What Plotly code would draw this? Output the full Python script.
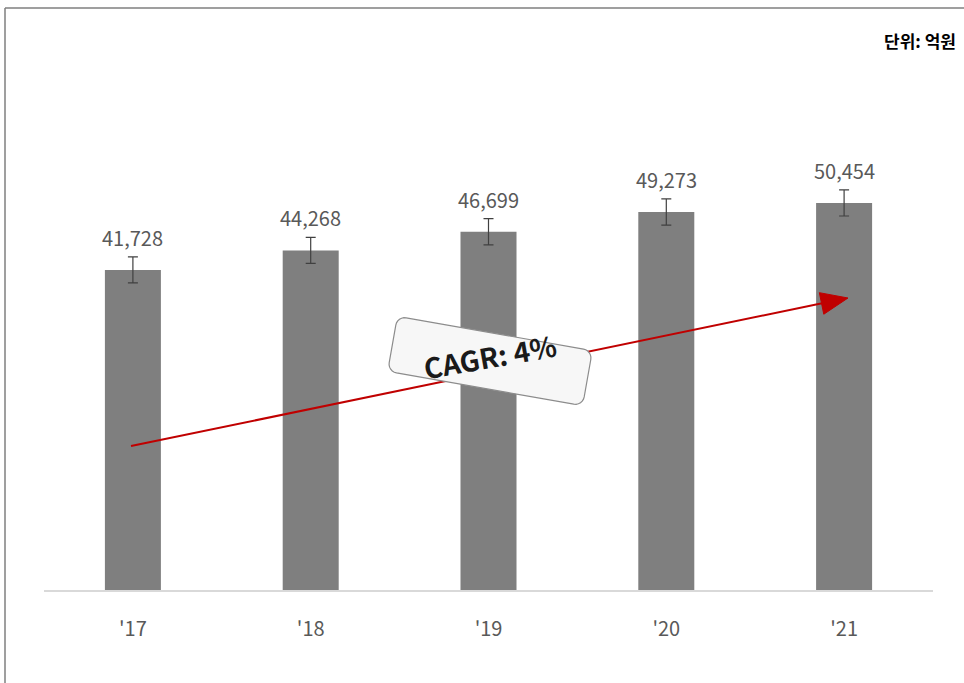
import math
import plotly.graph_objects as go

# Annual figures (unit: 억원)
years = ["'17", "'18", "'19", "'20", "'21"]
values = [41728, 44268, 46699, 49273, 50454]
errors = [1700, 1700, 1700, 1700, 1700]
cagr_text = "CAGR: 4%"
unit_text = "단위: 억원"

W, H = 964, 683
ML, MR, MT, MB = 44, 31, 53, 93
YMAX = 70000

font_family = "Noto Sans CJK KR, Open Sans, sans-serif"

fig = go.Figure()
fig.add_trace(go.Bar(
    x=years, y=values,
    marker=dict(color="#7f7f7f", line=dict(width=0)),
    width=0.315,
    error_y=dict(type="data", array=errors, visible=True,
                 color="#404040", thickness=1.2, width=5),
    hoverinfo="skip",
))

# value labels above each bar
for yr, v in zip(years, values):
    fig.add_annotation(x=yr, y=v, text=f"{v:,}", showarrow=False,
                       yanchor="bottom", yshift=16,
                       font=dict(size=20, color="#595959", family=font_family))

# pixel -> paper helpers
pw, ph = W - ML - MR, H - MT - MB
def px_x(p):
    return (p - ML) / pw
def px_y(p):
    return 1 - (p - MT) / ph
def path_from_px(pts):
    return "M " + " L ".join(f"{px_x(x):.5f},{px_y(y):.5f}" for x, y in pts) + " Z"

# growth arrow: shaft + filled head (drawn as shapes so the callout sits on top)
tail = (131, 446)
tip = (848, 298)
dx, dy = tip[0] - tail[0], tip[1] - tail[1]
L = math.hypot(dx, dy)
ux, uy = dx / L, dy / L
head_len, head_half = 27, 11
base = (tip[0] - ux * head_len, tip[1] - uy * head_len)
fig.add_shape(type="line", xref="paper", yref="paper",
              x0=px_x(tail[0]), y0=px_y(tail[1]),
              x1=px_x(base[0] + ux * 3), y1=px_y(base[1] + uy * 3),
              line=dict(color="#c00000", width=2), layer="above")
fig.add_shape(type="path", xref="paper", yref="paper",
              path=path_from_px([tip,
                                 (base[0] - uy * head_half, base[1] + ux * head_half),
                                 (base[0] + uy * head_half, base[1] - ux * head_half)]),
              fillcolor="#c00000", line=dict(color="#c00000", width=1),
              layer="above")

# rounded, tilted callout box behind the CAGR text
cx, cy, bw, bh, rad, ang = 490, 361, 198, 56, 9, -10
def rounded_rect_path(cx, cy, w, h, r, deg):
    t = math.radians(deg)
    ct, st = math.cos(t), math.sin(t)
    pts = []
    corners = [(w / 2 - r, -h / 2 + r, -90), (w / 2 - r, h / 2 - r, 0),
               (-w / 2 + r, h / 2 - r, 90), (-w / 2 + r, -h / 2 + r, 180)]
    for ox, oy, a0 in corners:
        for k in range(7):
            a = math.radians(a0 + 90 * k / 6)
            lx, ly = ox + r * math.cos(a), oy + r * math.sin(a)
            rx = lx * ct + ly * st
            ry = -lx * st + ly * ct
            pts.append((cx + rx, cy + ry))
    return path_from_px(pts)

fig.add_shape(type="path", xref="paper", yref="paper",
              path=rounded_rect_path(cx, cy, bw, bh, rad, ang),
              fillcolor="#f7f7f7", line=dict(color="#8c8c8c", width=1.2),
              layer="above")

fig.add_annotation(x=px_x(cx), y=px_y(cy - 5), xref="paper", yref="paper",
                   text=f"<b>{cagr_text}</b>", showarrow=False, textangle=-10,
                   font=dict(size=28, color="#1a1a1a", family=font_family))

# unit note
fig.add_annotation(x=px_x(958), xref="paper", y=px_y(40), yref="paper",
                   text=f"<b>{unit_text}</b>", showarrow=False,
                   xanchor="right", yanchor="middle",
                   font=dict(size=17, color="#000000", family=font_family))

# outer frame (top and left edges visible)
fig.add_shape(type="line", xref="paper", yref="paper",
              x0=px_x(5), x1=px_x(W + 5), y0=px_y(8), y1=px_y(8),
              line=dict(color="#7f7f7f", width=1.5))
fig.add_shape(type="line", xref="paper", yref="paper",
              x0=px_x(5), x1=px_x(5), y0=px_y(8), y1=px_y(H + 5),
              line=dict(color="#7f7f7f", width=1.5))

fig.update_layout(
    width=W, height=H,
    margin=dict(l=ML, r=MR, t=MT, b=MB),
    plot_bgcolor="white", paper_bgcolor="white",
    showlegend=False,
    xaxis=dict(showgrid=False, showline=True, linecolor="#d9d9d9", linewidth=1.5,
               ticks="", ticklabelstandoff=20,
               tickfont=dict(size=20, color="#595959", family=font_family),
               range=[-0.5, 4.5]),
    yaxis=dict(range=[0, YMAX], visible=False, showgrid=False),
)

fig.write_html("out.html")
